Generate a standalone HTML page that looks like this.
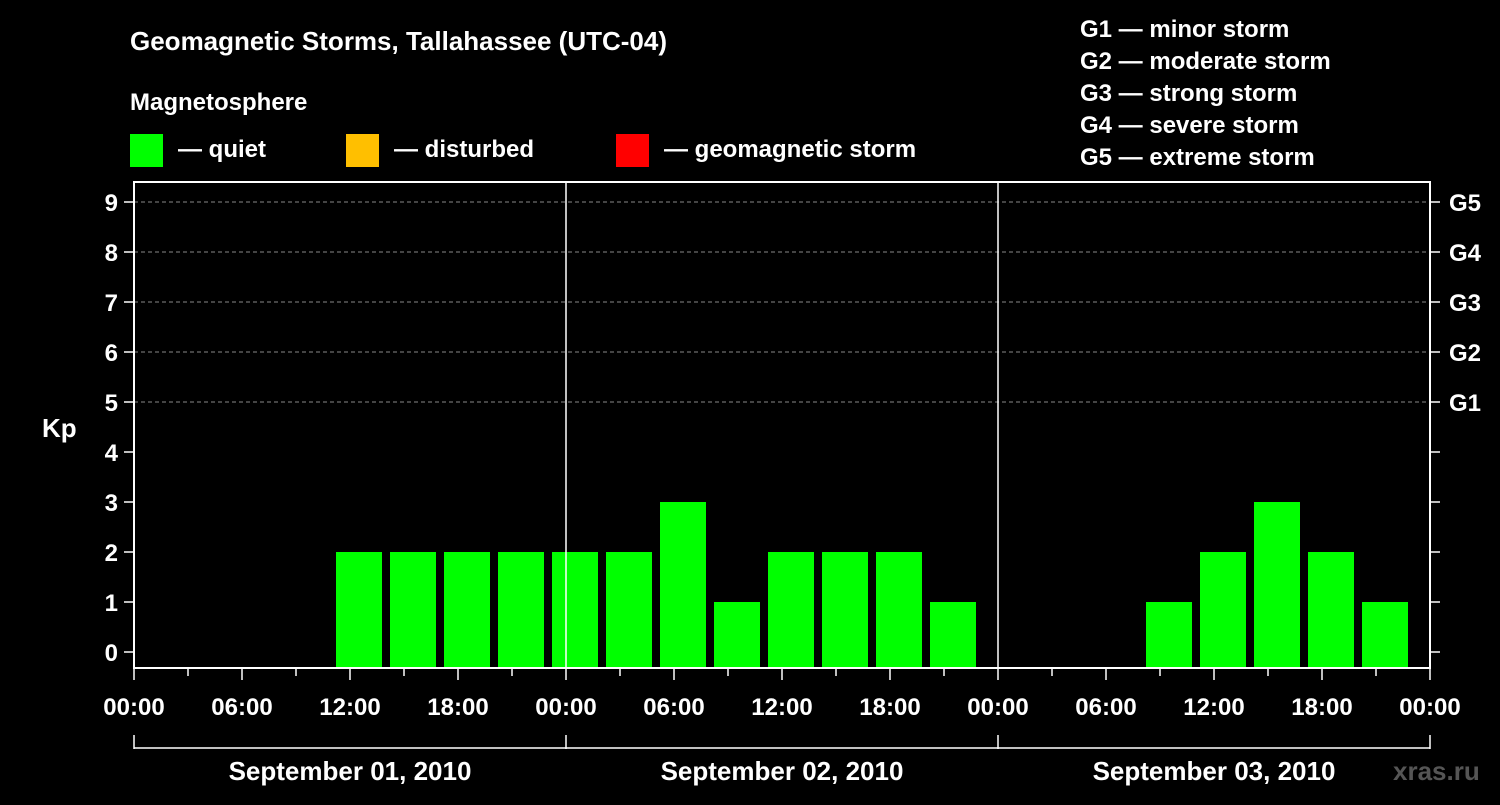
<!DOCTYPE html>
<html><head><meta charset="utf-8"><style>
body{margin:0;background:#000;width:1500px;height:800px;overflow:hidden}
svg text{font-family:"Liberation Sans",Arial,sans-serif;font-weight:bold;fill:#fff}
</style></head><body>
<svg id="c" width="1500" height="800">
<text x="130" y="50" font-size="26">Geomagnetic Storms, Tallahassee (UTC-04)</text>
<text x="130" y="110" font-size="24">Magnetosphere</text>
<g><rect x="130" y="134" width="33" height="33" fill="#00ff00"/><text x="178" y="157" font-size="24">— quiet</text></g>
<g><rect x="346" y="134" width="33" height="33" fill="#ffbf00"/><text x="394" y="157" font-size="24">— disturbed</text></g>
<g><rect x="616" y="134" width="33" height="33" fill="#ff0000"/><text x="664" y="157" font-size="24">— geomagnetic storm</text></g>
<g font-size="24">
<text x="1080" y="37">G1 — minor storm</text><text x="1080" y="69">G2 — moderate storm</text><text x="1080" y="101">G3 — strong storm</text><text x="1080" y="133">G4 — severe storm</text><text x="1080" y="165">G5 — extreme storm</text></g>
<text x="42" y="437" font-size="26">Kp</text>
<text x="1393" y="780" font-size="26" fill="#555" style="fill:#555">xras.ru</text>
<g id="plot"></g>
</svg>
<script>
const kpValues=[null,null,null,2,2,2,2,2,2,3,1,2,2,2,1,null,null,null,1,2,3,2,1];
const slotStartHour0=2;
const dayLabels=["September 01, 2010","September 02, 2010","September 03, 2010"];
const hourLabels=["00:00","06:00","12:00","18:00"];
const gLabels=["G1","G2","G3","G4","G5"];
const X0=134,X1=1430,HOURS=72,YT=182,YB=668;
const x=h=>X0+(X1-X0)*h/HOURS;
const y=k=>652-50*k;
const NS="http://www.w3.org/2000/svg",P=document.getElementById('plot');
function mk(t,a,txt){const e=document.createElementNS(NS,t);for(const k in a)e.setAttribute(k,a[k]);if(txt!=null)e.textContent=txt;P.appendChild(e);return e;}
for(let k=0;k<=9;k++){
 if(k>=5){const g=mk('line',{x1:X0,x2:X1,y1:y(k),y2:y(k),stroke:'#888','stroke-dasharray':'4,3'});}
 const l=mk('line',{x1:X0-10,x2:X0,y1:y(k),y2:y(k),stroke:'#fff','stroke-width':1.5});
 const r=mk('line',{x1:X1,x2:X1+10,y1:y(k),y2:y(k),stroke:'#fff','stroke-width':1.5});
 const t=mk('text',{x:X0-16,y:y(k)+9,'font-size':24,'text-anchor':'end'},String(k));
}
gLabels.forEach((g,i)=>{const t=mk('text',{x:1449,y:y(5+i)+9,'font-size':24},g);});
kpValues.forEach((v,i)=>{if(v==null)return;const h=slotStartHour0+3*i;
 const b=mk('rect',{x:x(h)+4,y:y(v),width:x(h+3)-x(h)-8,height:YB-y(v),fill:v>=5?'#ff0000':v>=4?'#ffbf00':'#00ff00'});
 });
const fr=mk('rect',{x:X0,y:YT,width:X1-X0,height:YB-YT,fill:'none',stroke:'#fff','stroke-width':2});
for(let d=1;d<3;d++){const l=mk('line',{x1:x(24*d),x2:x(24*d),y1:YT,y2:YB,stroke:'#fff','stroke-width':1.5});}
for(let h=0;h<=HOURS;h+=3){const l=mk('line',{x1:x(h),x2:x(h),y1:YB,y2:YB+(h%6==0?12:8),stroke:'#fff','stroke-width':1.5});}
for(let h=0;h<=HOURS;h+=6){const t=mk('text',{x:x(h),y:715,'font-size':24,'text-anchor':'middle'},hourLabels[(h/6)%4]);}
const br=mk('line',{x1:X0,x2:X1,y1:748,y2:748,stroke:'#fff','stroke-width':1.5});
for(let d=0;d<=3;d++){const l=mk('line',{x1:x(24*d),x2:x(24*d),y1:735,y2:749,stroke:'#fff','stroke-width':1.5});}
dayLabels.forEach((s,d)=>{const t=mk('text',{x:x(24*d+12),y:780,'font-size':26,'text-anchor':'middle'},s);});
</script>
</body></html>
